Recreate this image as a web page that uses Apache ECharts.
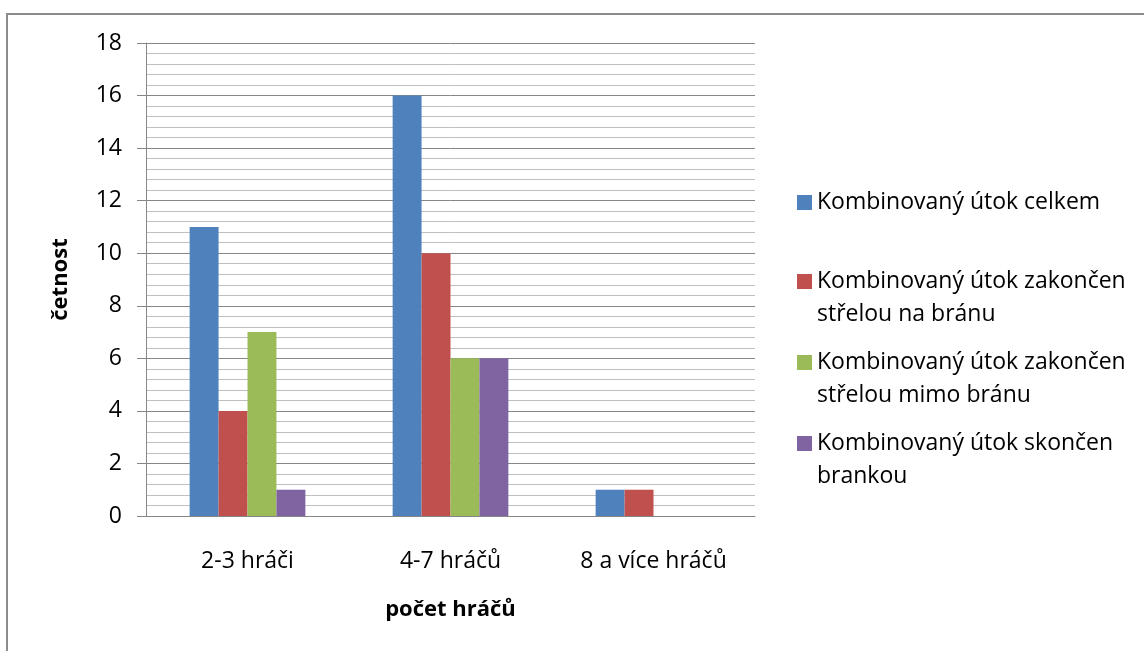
<!DOCTYPE html>
<html>
<head>
<meta charset="utf-8">
<script src="https://cdn.jsdelivr.net/npm/echarts@6/dist/echarts.min.js"></script>
<style>
  html, body { margin: 0; padding: 0; background: #fff; }
  #chart { width: 1144px; height: 651px; }
</style>
</head>
<body>
<div id="chart"></div>
<script>
var categories = ['2-3 hráči', '4-7 hráčů', '8 a více hráčů'];
var seriesNames = [
  'Kombinovaný útok celkem',
  'Kombinovaný útok zakončen\nstřelou na bránu',
  'Kombinovaný útok zakončen\nstřelou mimo bránu',
  'Kombinovaný útok skončen\nbrankou'
];
var celkem = [11, 16, 1];
var naBranu = [4, 10, 1];
var mimoBranu = [7, 6, 0];
var brankou = [1, 6, 0];
var colors = ['#4F81BD', '#C0504D', '#9BBB59', '#8064A2'];

var font = '"Open Sans", sans-serif';
var chart = echarts.init(document.getElementById('chart'));

// one legend per item; a blank first line keeps the square on the first text line
var legendTops = [186, 232, 313, 394];
var legends = seriesNames.map(function (n, i) {
  var twoLines = n.indexOf('\n') >= 0;
  return {
    data: [n],
    orient: 'vertical',
    left: 797,
    top: legendTops[i],
    padding: 0,
    itemWidth: 15,
    itemHeight: 15,
    icon: 'rect',
    selectedMode: false,
    formatter: function (name) {
      return twoLines ? ' \n' + name : name;
    },
    textStyle: {
      fontFamily: font,
      fontSize: 23,
      color: '#000',
      lineHeight: 33
    }
  };
});

var values = [celkem, naBranu, mimoBranu, brankou];
var series = values.map(function (v, i) {
  return {
    name: seriesNames[i],
    type: 'bar',
    data: v,
    barGap: '0%',
    barCategoryGap: '43%',
    itemStyle: { color: colors[i] }
  };
});

chart.setOption({
  animation: false,
  color: colors,
  grid: { left: 146, right: 389, top: 43, bottom: 135, containLabel: false },
  legend: legends,
  graphic: [{
    type: 'rect',
    shape: { x: 7, y: 14, width: 1300, height: 800 },
    style: { fill: 'none', stroke: '#8c8c8c', lineWidth: 2 },
    silent: true
  }],
  xAxis: {
    type: 'category',
    data: categories,
    name: 'počet hráčů',
    nameLocation: 'middle',
    nameGap: 83,
    nameTextStyle: { fontFamily: font, fontSize: 22, fontWeight: 'bold', color: '#000' },
    axisLine: { lineStyle: { color: '#868686', width: 1 } },
    axisTick: { show: false },
    axisLabel: { fontFamily: font, fontSize: 23, color: '#000', margin: 34 }
  },
  yAxis: {
    type: 'value',
    min: 0,
    max: 18,
    interval: 2,
    name: 'četnost',
    nameLocation: 'middle',
    nameGap: 74,
    nameTextStyle: { fontFamily: font, fontSize: 22, fontWeight: 'bold', color: '#000' },
    axisLine: { show: true, lineStyle: { color: '#868686', width: 1 } },
    axisTick: { show: true, length: 9, lineStyle: { color: '#868686' } },
    axisLabel: { fontFamily: font, fontSize: 23, color: '#000', margin: 24 },
    splitLine: { lineStyle: { color: '#868686', width: 1 } },
    minorTick: { show: false, splitNumber: 5 },
    minorSplitLine: { show: true, lineStyle: { color: '#bfbfbf', width: 1 } }
  },
  series: series
});
</script>
</body>
</html>
